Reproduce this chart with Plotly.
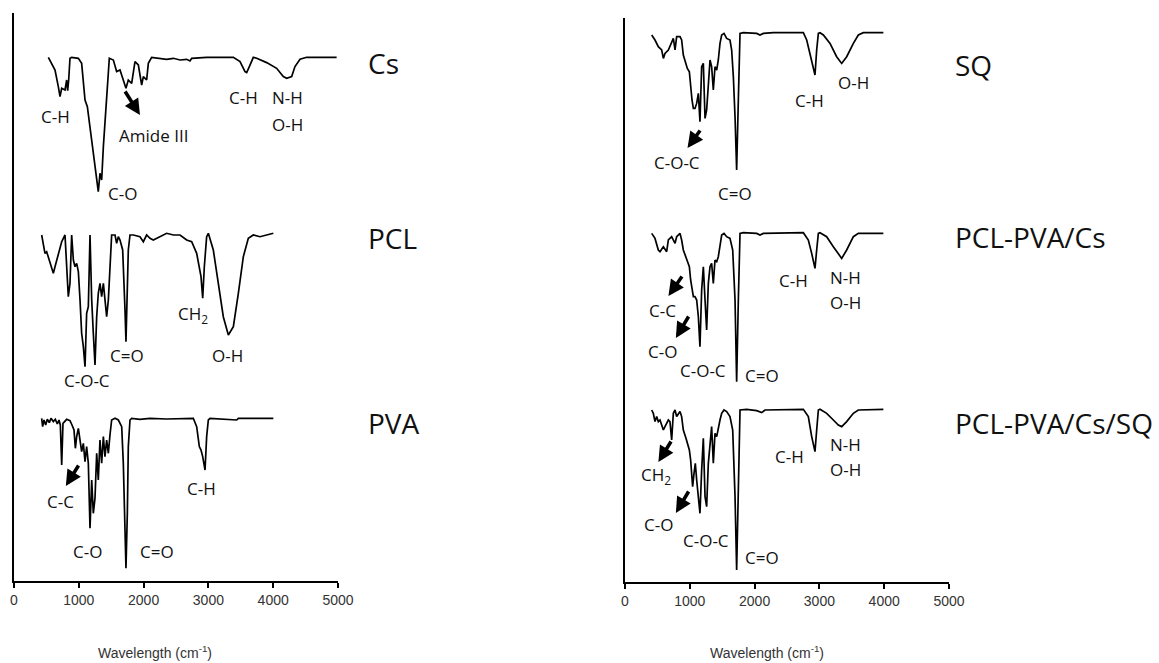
import plotly.graph_objects as go

W, H = 1159, 663

# ---------------- data: wavenumber (cm-1) and relative transmittance (a.u., baseline = 0) ----------------
cs_wn = [530, 633, 684, 710, 736, 787, 813, 828, 844, 864, 890, 993, 1044, 1096, 1132, 1173, 1224, 1265, 1286, 1301,
         1327, 1353, 1379, 1420, 1440, 1471, 1533, 1584, 1636, 1687, 1728, 1764, 1816, 1867, 1919, 1970, 1996, 2047,
         2073, 2124, 2356, 2459, 2562, 2665, 2716, 2742, 2973, 3385, 3488, 3565, 3591, 3632, 3693, 3745, 3899, 4053,
         4156, 4208, 4285, 4336, 4414, 4516, 4979]
cs_t = [0, -12.7, -29.3, -39.3, -31, -32.7, -22.7, -33.3, -22.7, -1, 0, -1, -6, -42.7, -49.3, -69.3, -99.3, -116, -124.3,
        -134.3, -116, -122.7, -89.3, -52.7, -26, -1, -2.7, -14.3, -12.7, -22.7, -31, -22.7, -26, -4.3, -7.7, -27.7,
        -19.3, -22.7, -6, 0, -2, -1, -2.7, -2, -3.7, -1, 0, 0, -4.3, -14.3, -15.3, -9.3, 0, -1, -5.3, -11, -19.3, -21,
        -19.3, -9.3, -2, 0, 0]

pcl_wn = [427, 453, 478, 504, 556, 607, 633, 684, 736, 787, 813, 838, 864, 890, 916, 941, 967, 993, 1019, 1044, 1070,
          1096, 1121, 1147, 1173, 1199, 1224, 1250, 1276, 1301, 1327, 1353, 1379, 1404, 1430, 1456, 1481, 1507, 1559,
          1584, 1610, 1636, 1677, 1698, 1713, 1728, 1749, 1764, 1790, 1842, 1944, 1996, 2047, 2099, 2150, 2253, 2356,
          2459, 2562, 2665, 2742, 2819, 2860, 2886, 2912, 2937, 2973, 2999, 3076, 3153, 3230, 3308, 3385, 3462, 3539,
          3616, 3693, 3796, 3899, 4002]
pcl_t = [0, -8.3, -18.3, -16.7, -28.3, -38.3, -31.7, -18.3, -6.7, 0, -31.7, -61.7, -48.3, 0, -25, -31.7, -28.3, -36.7,
         -65, -98.3, -111.7, -131.7, -78.3, -71.7, 0, -65, -98.3, -130, -81.7, -58.3, -48.3, -61.7, -48.3, -65, -81.7,
         -65, -31.7, 0, 0, -8.3, -1.7, -5, -15, -41.7, -75, -106.7, -65, -15, 0, 0, -1.7, -6.7, 0, -3.3, -5, -1.7, 1.7,
         0, 0, -5, -6.7, -18.3, -31.7, -41.7, -63.3, -31.7, -1.7, 1.7, -15, -48.3, -81.7, -100, -91.7, -58.3, -21.7,
         -3.3, 0, -1.7, 0, 1.7]

pva_wn = [427, 442, 463, 489, 514, 545, 571, 607, 638, 669, 694, 715, 736, 756, 813, 864, 895, 926, 947, 967, 993, 1019,
          1044, 1070, 1096, 1121, 1147, 1173, 1199, 1224, 1250, 1276, 1301, 1327, 1353, 1379, 1404, 1430, 1456, 1481,
          1507, 1559, 1610, 1662, 1687, 1713, 1728, 1749, 1764, 1790, 1816, 1944, 2099, 2356, 2767, 2819, 2860, 2886,
          2912, 2948, 2973, 2999, 3025, 3436, 3462, 4002]
pva_t = [0, -8.3, -1.7, -6.7, -1, -4.3, 0, -3.3, -1, -5.7, -1.7, -6.7, -46.7, -5, -1, -2.3, -6.7, -11.7, -30, -18.3, -10,
         -23.3, -33.3, -25, -43.3, -28.3, -45, -110, -61.7, -95, -80, -35, -61.7, -21.7, -45, -18.3, -38.3, -21.7, -35,
         -16.7, -1.7, 0, -1.7, -8.3, -45, -111.7, -150, -95, -28.3, -1.7, 0, -1, 0, -0.7, 0, -8.3, -28.3, -31.7, -38.3,
         -51.7, -18.3, -1.7, 0, -1.7, 0, 0]

sq_wn = [412, 463, 514, 566, 592, 617, 669, 720, 746, 772, 797, 849, 874, 900, 926, 962, 993, 1013, 1034, 1055, 1080,
         1106, 1132, 1157, 1183, 1209, 1235, 1260, 1286, 1312, 1337, 1363, 1389, 1415, 1440, 1466, 1492, 1528, 1569,
         1620, 1646, 1672, 1698, 1723, 1749, 1775, 1826, 2032, 2083, 2135, 2289, 2752, 2804, 2855, 2906, 2932, 2958,
         2984, 3009, 3061, 3164, 3266, 3344, 3421, 3524, 3601, 3678, 3987]
sq_t = [-2.3, -7.3, -14, -17.3, -25.7, -20.7, -17.3, -10.7, -5.7, -17.3, -4, -4, -7.3, -22.3, -27.3, -35.7, -39, -54,
        -67.3, -75.7, -75.7, -70.7, -60.7, -89, -34, -30.7, -85.7, -77.3, -50.7, -27.3, -34, -57.3, -34, -37.3, -27.3,
        -10.7, -2.3, -0.7, -5.7, -7.3, -17.3, -44, -84, -137.3, -67.3, -0.7, 0, -0.7, -2.3, -0.7, 0, 0, -7.3, -22.3,
        -37.3, -42.3, -17.3, -0.7, 0, -2.3, -10.7, -24, -30.7, -24, -10.7, -2.3, 0, 0]

blend_wn = [412, 463, 514, 540, 592, 643, 669, 720, 772, 797, 849, 874, 900, 941, 962, 993, 1013, 1034, 1055, 1080, 1106,
            1132, 1157, 1183, 1209, 1235, 1260, 1286, 1312, 1337, 1363, 1389, 1415, 1440, 1492, 1528, 1569, 1620, 1662,
            1698, 1723, 1749, 1775, 1826, 2032, 2083, 2135, 2752, 2829, 2881, 2932, 2958, 2984, 3009, 3112, 3215, 3318,
            3344, 3421, 3524, 3601, 3987]
blend_t = [-0.7, -5.7, -17.3, -19, -14, -19, -7.3, -4, -10.7, -4, -0.7, -7.3, -17.3, -24, -29, -34, -47.3, -57.3, -64,
           -64, -67.3, -84, -114, -57.3, -34, -67.3, -97.3, -50.7, -34, -30.7, -50.7, -27.3, -29, -24, -2.3, -0.7, -4,
           -5.7, -17.3, -67.3, -149, -67.3, -0.7, 0, -0.7, -2.3, -0.7, 0, -7.3, -20.7, -35.7, -17.3, -0.7, 0, -4, -14,
           -24, -25.7, -17.3, -4, -0.7, -0.7]

blendsq_wn = [412, 437, 463, 489, 514, 540, 566, 592, 617, 643, 669, 694, 720, 746, 772, 797, 849, 874, 900, 941, 962,
              993, 1013, 1044, 1065, 1085, 1106, 1132, 1157, 1183, 1209, 1235, 1260, 1286, 1312, 1337, 1363, 1389, 1415,
              1440, 1466, 1492, 1528, 1569, 1620, 1662, 1698, 1723, 1749, 1775, 1878, 2032, 2109, 2160, 2752, 2829, 2881,
              2906, 2932, 2958, 2984, 3009, 3112, 3215, 3292, 3344, 3421, 3524, 3601, 3987]
blendsq_t = [-0.7, -4, -12.3, -7.3, -12.3, -10.7, -15.7, -20.7, -17.3, -14, -10.7, -12.3, -30.7, -4, -0.7, -7.3, -2.3,
             -7.3, -20.7, -29, -34, -40.7, -50.7, -77.3, -64, -54, -70.7, -87.3, -104, -60.7, -29, -87.3, -97.3, -54,
             -30.7, -17.3, -54, -24, -27.3, -17.3, -10.7, -4, -0.7, -2.3, -7.3, -20.7, -87.3, -160.7, -70.7, -0.7, 0,
             -1.3, -3.3, -0.7, 0, -7.3, -27.3, -34, -42.3, -20.7, -0.7, 0, -4, -10.7, -15.7, -17.3, -12.3, -4, -0.7, 0]

sample_names = ["Cs", "PCL", "PVA", "SQ", "PCL-PVA/Cs", "PCL-PVA/Cs/SQ"]
x_ticks = [0, 1000, 2000, 3000, 4000, 5000]

# ---------------- layout / stacking (positions) ----------------
left_offsets = [542.7, 365, 181.7]     # vertical stacking offsets (a.u.)
right_offsets = [567.3, 367.3, 190.7]

fig = go.Figure()
series_left = [(cs_wn, cs_t), (pcl_wn, pcl_t), (pva_wn, pva_t)]
series_right = [(sq_wn, sq_t), (blend_wn, blend_t), (blendsq_wn, blendsq_t)]
LINE = dict(color="black", width=1.7)
for (wn, t), off, nm in zip(series_left, left_offsets, sample_names[:3]):
    fig.add_trace(go.Scatter(x=wn, y=[v + off for v in t], mode="lines", line=LINE, name=nm,
                             xaxis="x", yaxis="y", hoverinfo="skip"))
for (wn, t), off, nm in zip(series_right, right_offsets, sample_names[3:]):
    fig.add_trace(go.Scatter(x=wn, y=[v + off for v in t], mode="lines", line=LINE, name=nm,
                             xaxis="x2", yaxis="y2", hoverinfo="skip"))

def px2fx(px):
    return px / W

def py2fy(py):
    return 1 - py / H

xaxis_common = dict(range=[0, 5000], tickvals=x_ticks, ticks="outside", ticklen=5, tickwidth=2,
                    tickcolor="black", showline=True, linecolor="black", linewidth=2, showgrid=False,
                    zeroline=False, tickfont=dict(family="Liberation Sans, Arial", size=14, color="#333"),
                    fixedrange=True, automargin=False)
yaxis_common = dict(showline=True, linecolor="black", linewidth=2, showgrid=False, zeroline=False,
                    showticklabels=False, ticks="", fixedrange=True, automargin=False)

fig.update_layout(
    template="none",
    width=W, height=H, autosize=False, margin=dict(l=0, r=0, t=0, b=0, pad=0),
    paper_bgcolor="white", plot_bgcolor="white", showlegend=False,
    xaxis=dict(domain=[px2fx(14), px2fx(338)], anchor="y", **xaxis_common),
    yaxis=dict(domain=[py2fy(581), py2fy(13)], range=[19, 587], anchor="x", **yaxis_common),
    xaxis2=dict(domain=[px2fx(625), px2fx(949)], anchor="y2", **xaxis_common),
    yaxis2=dict(domain=[py2fy(582), py2fy(18)], range=[18, 582], anchor="x2", **yaxis_common),
)

LBL = dict(family="Open Sans, Noto Sans, sans-serif", size=17, color="#111")
NAME = dict(family="Open Sans, Noto Sans, sans-serif", size=28, color="#111")

ann = []
def lab(text, x, y, ax="x", ay="y"):
    ann.append(dict(text=text, x=x, y=y, xref=ax, yref=ay, showarrow=False, font=LBL,
                    xanchor="center", yanchor="middle"))

def arr(x0, y0, x1, y1, ax="x", ay="y"):
    ann.append(dict(text="", x=x1, y=y1, ax=x0, ay=y0, xref=ax, yref=ay, axref=ax, ayref=ay,
                    showarrow=True, arrowhead=2, arrowsize=0.9, arrowwidth=3.5, arrowcolor="black"))

# Left panel labels
lab("C-H", 633, 484); lab("Amide III", 2160, 465); arr(1700, 510, 1944, 485)
lab("C-O", 1682, 407); lab("C-H", 3534, 503); lab("N-H", 4213, 503); lab("O-H", 4213, 476)
lab("C-O-C", 1127, 220); lab("C=O", 1744, 245); lab("CH<sub>2</sub>", 2762, 286); lab("O-H", 3302, 245)
arr(1010, 136, 800, 114); lab("C-C", 725, 98.3); lab("C-O", 1127, 48.3); lab("C=O", 2207, 48.3)
lab("C-H", 2901, 112)

# Right panel labels
R = dict(ax="x2", ay="y2")
arr(1175, 471, 965, 452, **R); lab("C-O-C", 802, 438, **R); lab("C=O", 1698, 407, **R)
lab("C-H", 2840, 500, **R); lab("O-H", 3519, 518, **R)
arr(895, 325, 670, 304, **R); lab("C-C", 582, 290, **R); arr(995, 285, 785, 262, **R)
lab("C-O", 582, 248.3, **R); lab("C-O-C", 1199, 230, **R); lab("C=O", 2110, 225, **R)
lab("C-H", 2597, 320, **R); lab("N-H", 3395, 322.3, **R); lab("O-H", 3395, 297.3, **R)
arr(725, 160, 515, 138, **R); lab("CH<sub>2</sub>", 478, 124.7, **R); arr(995, 110, 785, 87, **R)
lab("C-O", 514, 76, **R); lab("C-O-C", 1250, 60, **R); lab("C=O", 2110, 42.3, **R)
lab("C-H", 2535, 144, **R); lab("N-H", 3395, 156, **R); lab("O-H", 3395, 130.7, **R)

# Sample names
name_pos = [(366, 63), (366, 238), (366, 423), (953, 65), (953, 237), (953, 423)]
for nm, (px, py) in zip(sample_names, name_pos):
    ann.append(dict(text=nm, x=px2fx(px), y=py2fy(py), xref="paper", yref="paper", showarrow=False,
                    font=NAME, xanchor="left", yanchor="middle"))

# Axis titles
for cx in (155, 767):
    ann.append(dict(text="Wavelength (cm<sup>-1</sup>)", x=px2fx(cx), y=py2fy(652), xref="paper", yref="paper",
                    showarrow=False, font=dict(family="Liberation Sans, Arial", size=14, color="#333"),
                    xanchor="center", yanchor="middle"))

fig.update_layout(annotations=ann)
fig.write_html("out.html", config={"displayModeBar": False, "responsive": False},
               post_script="document.body.style.margin='0';document.body.style.overflow='hidden';")
